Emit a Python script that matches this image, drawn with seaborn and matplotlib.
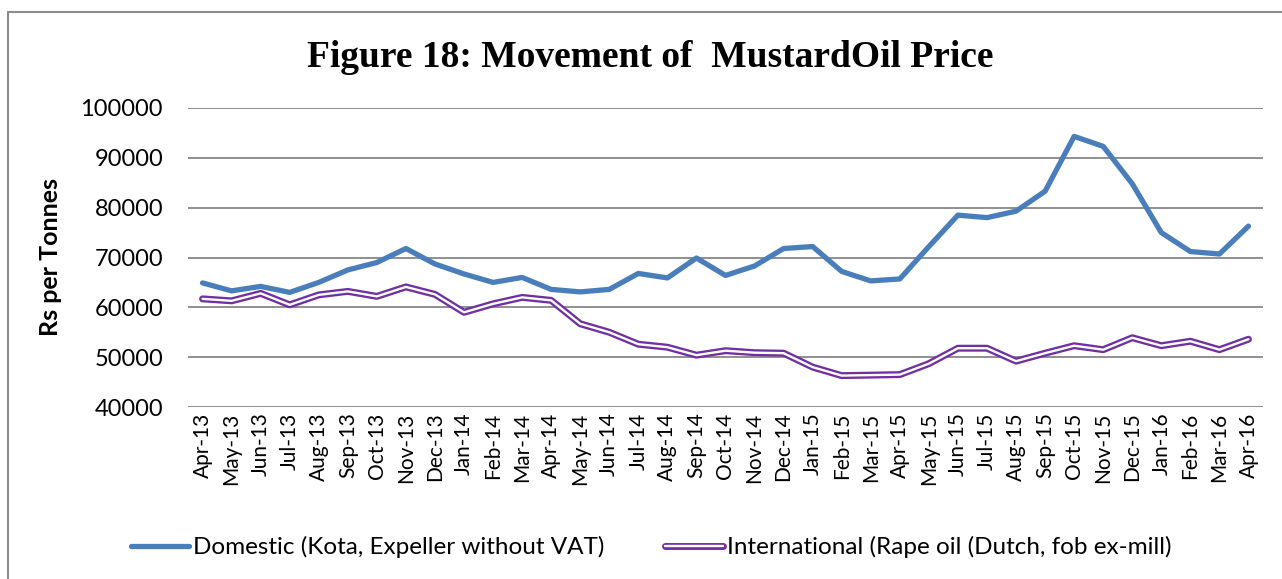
import matplotlib
matplotlib.use("Agg")
import matplotlib.pyplot as plt
import matplotlib.patheffects as pe
import seaborn as sns
import pandas as pd

months = ["Apr-13", "May-13", "Jun-13", "Jul-13", "Aug-13", "Sep-13", "Oct-13", "Nov-13", "Dec-13",
          "Jan-14", "Feb-14", "Mar-14", "Apr-14", "May-14", "Jun-14", "Jul-14", "Aug-14", "Sep-14",
          "Oct-14", "Nov-14", "Dec-14", "Jan-15", "Feb-15", "Mar-15", "Apr-15", "May-15", "Jun-15",
          "Jul-15", "Aug-15", "Sep-15", "Oct-15", "Nov-15", "Dec-15", "Jan-16", "Feb-16", "Mar-16",
          "Apr-16"]

domestic = [64900, 63300, 64200, 63000, 65000, 67500, 69000, 71800, 68700,
            66700, 65000, 66000, 63600, 63100, 63600, 66800, 65900, 69900,
            66400, 68300, 71800, 72200, 67200, 65300, 65700, 72200, 78500,
            78000, 79300, 83300, 94300, 92300, 84800, 75000, 71200, 70700,
            76300]

international = [61700, 61300, 62800, 60500, 62500, 63200, 62200, 64100, 62600,
                 59000, 60700, 62000, 61400, 56700, 55000, 52600, 52000, 50400,
                 51300, 50900, 50800, 48000, 46300, 46400, 46500, 48700, 51800,
                 51800, 49200, 50800, 52300, 51500, 53900, 52300, 53200, 51500,
                 53600]

series_names = ["Domestic (Kota, Expeller without VAT)",
                "International (Rape oil (Dutch, fob ex-mill)"]
title = "Figure 18: Movement of  MustardOil Price"
ylabel = "Rs per Tonnes"
yticks = [40000, 50000, 60000, 70000, 80000, 90000, 100000]

df = pd.DataFrame({"month": months, "idx": range(len(months)),
                   "dom": domestic, "intl": international})

sns.set_theme(style="white")
plt.rcParams["font.family"] = ["Lato", "DejaVu Sans"]
plt.rcParams["text.color"] = "black"

fig = plt.figure(figsize=(12.82, 5.79), dpi=100)
ax = fig.add_axes([188 / 1282, 1 - 407 / 579, (1263 - 188) / 1282, (407 - 108) / 579])

grid_c = "#878787"
for v in yticks:
    ax.axhline(v, color=grid_c, lw=1.3, zorder=0)

blue = "#4A7EBB"
purple = "#7030A0"
sns.lineplot(data=df, x="idx", y="dom", ax=ax, color=blue, lw=3.8,
             label=series_names[0], solid_capstyle="round", solid_joinstyle="round")
sns.lineplot(data=df, x="idx", y="intl", ax=ax, color="white", lw=1.7,
             label=series_names[1], solid_capstyle="round", solid_joinstyle="round",
             path_effects=[pe.Stroke(linewidth=5.0, foreground=purple), pe.Normal()])

ax.set_xlim(-0.5, len(months) - 0.5)
ax.set_ylim(40000, 100000)
ax.set_yticks(yticks)
ax.set_yticklabels([str(v) for v in yticks], fontsize=17, color="black")
ax.set_xticks(range(len(months)))
ax.set_xticklabels(months, rotation=90, fontsize=15, color="black")
ax.tick_params(axis="y", length=0, pad=18)
ax.tick_params(axis="x", length=0, pad=4)
for s in ax.spines.values():
    s.set_visible(False)
ax.set_xlabel("")
ax.set_ylabel(ylabel, fontsize=18, fontweight="bold", color="black")
ax.yaxis.set_label_coords((62 - 188) / (1263 - 188), 0.5)

fig.text(0.507, 0.90, title, ha="center", va="center", fontsize=27, color="black",
         fontweight="bold", family=["Liberation Serif", "DejaVu Serif"])

leg = ax.legend(loc="center", bbox_to_anchor=(0.508, 0.055), bbox_transform=fig.transFigure,
                ncol=2, frameon=False, fontsize=17.5, handlelength=2.4, handletextpad=0.15,
                columnspacing=2.5)
for t in leg.get_texts():
    t.set_color("black")

# figure border
border = plt.Rectangle((8 / 1282, -0.05), 1.2, 1 - 12 / 579 + 0.05, transform=fig.transFigure,
                       fill=False, edgecolor="#8c8c8c", lw=1.5)
fig.patches.append(border)

fig.savefig("out.png", dpi=100)
